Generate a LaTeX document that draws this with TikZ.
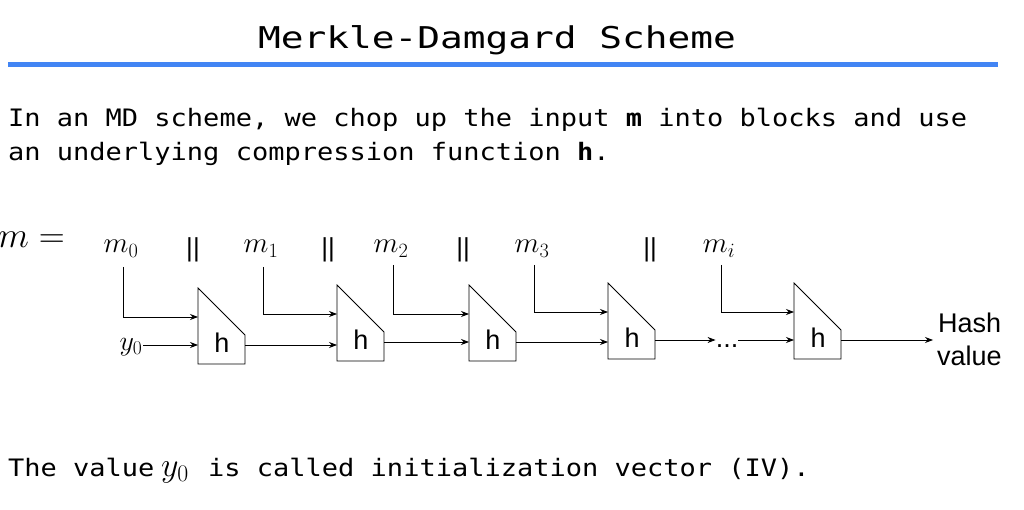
\RequirePackage{fix-cm}
\documentclass[tikz,border=0pt]{standalone}
\usepackage{fontspec}
\setmonofont{DejaVu Sans Mono}
\setsansfont{Liberation Sans}
\newfontfamily\bodymono[FakeStretch=1.125]{DejaVu Sans Mono}
\newfontfamily\titlemono[FakeStretch=1.26]{DejaVu Sans Mono}
\usetikzlibrary{arrows.meta}
\definecolor{rulebl}{HTML}{4285F4}
\tikzset{
  blk/.style={draw, line width=0.8pt},
  conn/.style={draw, line width=0.8pt, -{Stealth[length=8pt,width=6pt]}},
  txt/.style={inner sep=0pt, anchor=base west, font=\bodymono\fontsize{24}{24}\selectfont},
  mlab/.style={inner sep=0pt, anchor=base, font=\fontsize{29}{29}\selectfont},
  bars/.style={inner sep=0pt, anchor=base, font=\sffamily\fontsize{26}{26}\selectfont},
  sanslab/.style={inner sep=0pt, font=\sffamily\fontsize{27}{27}\selectfont},
  mdblk/.pic={
    \draw[blk] (0,0) -- (0,76) -- (47,76) -- (47,47) -- cycle;
    \coordinate (-a) at (0,29);
    \coordinate (-b) at (0,57);
    \coordinate (-o) at (47,57);
    \node[sanslab, anchor=base] (-h) at (24,64) {h};
  }
}
\begin{document}
\begin{tikzpicture}[x=1pt,y=-1pt]
\useasboundingbox[fill=white] (0,0) rectangle (1024,510);
% title
\node[inner sep=0pt, anchor=base, font=\titlemono\fontsize{30}{30}\selectfont] (title) at (497,49) {Merkle-Damgard Scheme};
\fill[rulebl] (8,62) rectangle (998,67);
% body
\node[txt] (l1) at (8,127) {In an MD scheme, we chop up the input \textbf{m} into blocks and use};
\node[txt] (l2) at (8,161) {an underlying compression function \textbf{h}.};
% m = line
\node[inner sep=0pt, anchor=base east, font=\fontsize{36}{36}\selectfont] (meq) at (65,248) {$m =$};
\node[mlab] (m0) at (121,253) {$m_0$};
\node[mlab] (m1) at (261,253) {$m_1$};
\node[mlab] (m2) at (391,253) {$m_2$};
\node[mlab] (m3) at (532,253) {$m_3$};
\node[mlab] (mi) at (719,253) {$m_i$};
\node[bars] (c1) at (193,257) {||};
\node[bars] (c2) at (328,257) {||};
\node[bars] (c3) at (463,257) {||};
\node[bars] (c4) at (650,257) {||};
% blocks
\pic (b1) at (198,288) {mdblk};
\pic (b2) at (337,285) {mdblk};
\pic (b3) at (469,285) {mdblk};
\pic (b4) at (608,283) {mdblk};
\pic (b5) at (794,283) {mdblk};
% y0
\node[inner sep=0pt, anchor=base, font=\fontsize{28}{28}\selectfont] (y0) at (131,350) {$y_0$};
% message wires
\coordinate (w0) at (123,267);
\coordinate (w1) at (263,267);
\coordinate (w2) at (393,265);
\coordinate (w3) at (534,265);
\coordinate (wi) at (721,265);
\draw[conn] (w0) |- (b1-a);
\draw[conn] (w1) |- (b2-a);
\draw[conn] (w2) |- (b3-a);
\draw[conn] (w3) |- (b4-a);
\draw[conn] (wi) |- (b5-a);
% chain
\coordinate (y0s) at (143,0);
\draw[conn] (y0s |- b1-b) -- (b1-b);
\draw[conn] (b1-o) -- (b2-b |- b1-o);
\draw[conn] (b2-o) -- (b3-b |- b2-o);
\draw[conn] (b3-o) -- (b4-b |- b3-o);
\node[sanslab, anchor=base] (dots) at (727,347) {...};
\draw[conn] (b4-o) -- (dots.west |- b4-o);
\draw[conn] (dots.east |- b5-b) -- (b5-b);
\coordinate (hashin) at (933,0);
\draw[conn] (b5-o) -- (hashin |- b5-o);
\node[sanslab, anchor=base west] (hash) at (938,332) {Hash};
\node[sanslab, anchor=base west] (val) at (937,365) {value};
% bottom line
\node[txt] (l3) at (8,476) {The value};
\node[inner sep=0pt, anchor=base west, font=\fontsize{34}{34}\selectfont] (y0b) at (161,476) {$y_0$};
\node[txt] (l4) at (208,476) {is called initialization vector (IV).};
\end{tikzpicture}
\end{document}
